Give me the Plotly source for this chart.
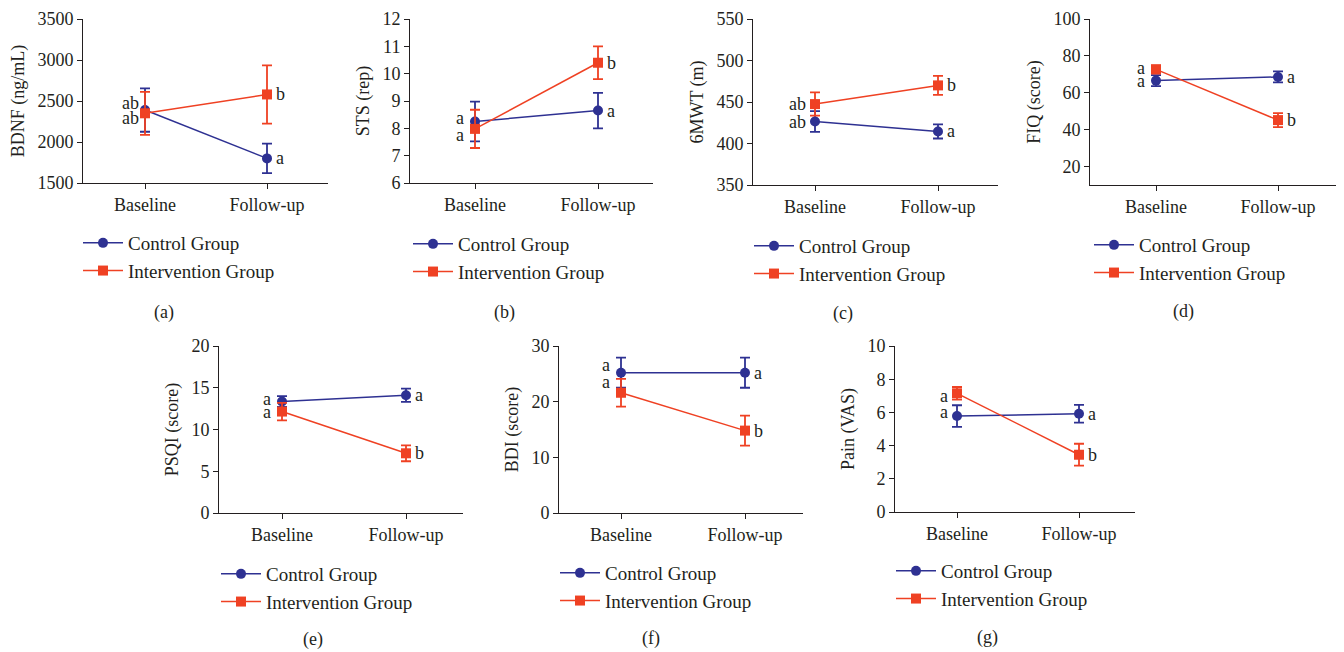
import plotly.graph_objects as go

# ---------------- data ----------------
categories = ["Baseline", "Follow-up"]
group_names = ["Control Group", "Intervention Group"]

bdnf_control = [2390, 1800]
bdnf_control_err = [265, 180]
bdnf_interv = [2350, 2580]
bdnf_interv_err = [262, 355]

sts_control = [8.25, 8.65]
sts_control_err = [0.73, 0.65]
sts_interv = [7.98, 10.4]
sts_interv_err = [0.7, 0.6]

mwt_control = [426.5, 414.5]
mwt_control_err = [12.5, 8.5]
mwt_interv = [447.5, 470.0]
mwt_interv_err = [14.0, 11.5]

fiq_control = [66.6, 68.6]
fiq_control_err = [3.0, 3.0]
fiq_interv = [72.7, 45.2]
fiq_interv_err = [2.2, 3.8]

psqi_control = [13.35, 14.1]
psqi_control_err = [0.65, 0.8]
psqi_interv = [12.15, 7.15]
psqi_interv_err = [1.05, 0.95]

bdi_control = [25.2, 25.2]
bdi_control_err = [2.7, 2.7]
bdi_interv = [21.6, 14.8]
bdi_interv_err = [2.5, 2.7]

pain_control = [5.78, 5.92]
pain_control_err = [0.65, 0.53]
pain_interv = [7.15, 3.45]
pain_interv_err = [0.38, 0.66]

y_titles = ["BDNF (ng/mL)", "STS (rep)", "6MWT (m)", "FIQ (score)",
            "PSQI (score)", "BDI (score)", "Pain (VAS)"]
panel_tags = ["(a)", "(b)", "(c)", "(d)", "(e)", "(f)", "(g)"]
y_ranges = [[1500, 3500], [6, 12], [350, 550], [10, 100], [0, 20], [0, 30], [0, 10]]
y_dticks = [500, 1, 50, 20, 5, 10, 2]

letters_control = [["ab", "a"], ["a", "a"], ["ab", "a"], ["a", "a"], ["a", "a"], ["a", "a"], ["a", "a"]]
letters_interv = [["ab", "b"], ["a", "b"], ["ab", "b"], ["a", "b"], ["a", "b"], ["a", "b"], ["a", "b"]]

series = [
    (bdnf_control, bdnf_control_err, bdnf_interv, bdnf_interv_err),
    (sts_control, sts_control_err, sts_interv, sts_interv_err),
    (mwt_control, mwt_control_err, mwt_interv, mwt_interv_err),
    (fiq_control, fiq_control_err, fiq_interv, fiq_interv_err),
    (psqi_control, psqi_control_err, psqi_interv, psqi_interv_err),
    (bdi_control, bdi_control_err, bdi_interv, bdi_interv_err),
    (pain_control, pain_control_err, pain_interv, pain_interv_err),
]

# ---------------- layout geometry (screen pixels) ----------------
OFF = 8                      # page body margin offset
W, H = 1344 - OFF, 652 - OFF


def px_x(px):
    return (px - OFF) / W


def px_y(py):
    return 1 - (py - OFF) / H


# axis-left, baseline-x, followup-x, axis-right, top, bottom
geom = [
    (83, 145, 267, 328, 19, 183),
    (410, 475, 598, 653, 19, 183),
    (753, 815, 938, 998, 19, 185),
    (1090, 1156, 1278, 1338, 19, 185),
    (219, 282, 406, 463, 346, 513),
    (559, 621, 745, 803, 346, 513),
    (895, 957, 1079, 1135, 346, 512),
]
# label offsets (px): baseline x-shift, control/interv baseline y-shift
base_xshift = [-4, -9, -7, -9, -9, -9, -7]
ctrl_yshift = [7, 3, 0, 0, 3, 8, 4]
intv_yshift = [-5, -6, 0, 1, 0, 11, -3]
legend_pos = [(84, 244), (414, 245), (755, 247), (1095, 246), (222, 575), (561, 574), (897, 572)]
tag_pos = [(164, 312), (505, 312), (843, 313), (1183, 311), (313, 639), (651, 638), (987, 637)]

BLUE = "#2E3192"
RED = "#EF4123"
INK = "#231F20"
FONT = "Liberation Serif"
FS = 18

fig = go.Figure()
annotations = []
layout = dict(
    width=W, height=H, margin=dict(l=0, r=0, t=0, b=0, autoexpand=False),
    paper_bgcolor="white", plot_bgcolor="white",
    font=dict(family=FONT, size=FS, color=INK),
    showlegend=True,
)

for i in range(7):
    n = i + 1
    xa = "x" if n == 1 else f"x{n}"
    ya = "y" if n == 1 else f"y{n}"
    lg = "legend" if n == 1 else f"legend{n}"
    axL, bx, fx, axR, top, bot = geom[i]
    unit = fx - bx
    xr = [(axL - bx) / unit, (axR - bx) / unit]
    c, ce, iv, ie = series[i]
    xs = list(range(len(categories)))

    fig.add_trace(go.Scatter(
        x=xs, y=c, name=group_names[0], mode="lines+markers",
        line=dict(color=BLUE, width=1.5),
        marker=dict(symbol="circle", size=10, color=BLUE),
        error_y=dict(type="data", array=ce, color=BLUE, thickness=1.8, width=5),
        xaxis=xa, yaxis=ya, legend=lg,
    ))
    fig.add_trace(go.Scatter(
        x=xs, y=iv, name=group_names[1], mode="lines+markers",
        line=dict(color=RED, width=1.5),
        marker=dict(symbol="square", size=10, color=RED),
        error_y=dict(type="data", array=ie, color=RED, thickness=1.8, width=5),
        xaxis=xa, yaxis=ya, legend=lg,
    ))

    axis_common = dict(showline=True, linecolor=INK, linewidth=1, ticks="outside",
                       ticklen=5, tickcolor=INK, tickwidth=1, showgrid=False,
                       zeroline=False, automargin=False,
                       tickfont=dict(family=FONT, size=FS, color=INK))
    layout["xaxis" if n == 1 else f"xaxis{n}"] = dict(
        domain=[px_x(axL), px_x(axR)], range=xr, tickvals=xs, ticktext=categories,
        anchor=ya, fixedrange=True, **axis_common)
    layout["yaxis" if n == 1 else f"yaxis{n}"] = dict(
        domain=[px_y(bot), px_y(top)], range=y_ranges[i], dtick=y_dticks[i], tick0=0,
        anchor=xa, title=dict(text=y_titles[i], font=dict(family=FONT, size=FS, color=INK), standoff=8),
        fixedrange=True, **axis_common)

    lx, ly = legend_pos[i]
    layout[lg] = dict(x=px_x(lx - 6), y=px_y(ly - 20), xanchor="left", yanchor="top",
                      bgcolor="rgba(0,0,0,0)", borderwidth=0, itemwidth=40,
                      font=dict(family=FONT, size=19, color=INK), tracegroupgap=0)

    for j in range(2):
        for vals, letters, ysh in ((c, letters_control[i], ctrl_yshift[i]),
                                   (iv, letters_interv[i], intv_yshift[i])):
            annotations.append(dict(
                x=xs[j], y=vals[j], xref=xa, yref=ya, text=letters[j], showarrow=False,
                xanchor="right" if j == 0 else "left", yanchor="middle",
                xshift=base_xshift[i] if j == 0 else 7,
                yshift=ysh if j == 0 else 0,
                font=dict(family=FONT, size=FS, color=INK)))

    tx, ty = tag_pos[i]
    annotations.append(dict(x=px_x(tx), y=px_y(ty), xref="paper", yref="paper",
                            xanchor="center", yanchor="middle",
                            text=panel_tags[i], showarrow=False,
                            font=dict(family=FONT, size=FS, color=INK)))

layout["annotations"] = annotations
fig.update_layout(**layout)
fig.write_html("out.html")
